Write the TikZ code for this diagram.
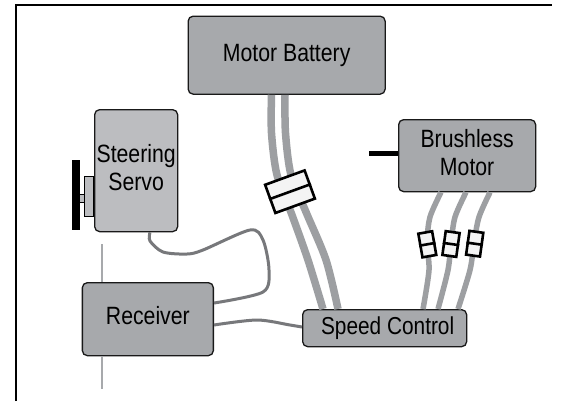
\documentclass[tikz,border=0pt]{standalone}
\usepackage{fontspec}
\setmainfont[FakeStretch=0.85]{Liberation Sans}
\newcommand{\liftup}[1]{\\[#1]\mbox{}}
\tikzset{
  x=1bp,y=-1bp,
  box/.style={draw=black!90,line width=1.3bp,rounded corners=5bp,fill=boxgray,text=black,anchor=north west,align=center,inner sep=0pt,font=\fontsize{25bp}{28.5bp}\selectfont},
  wire/.style={draw=wiregray,line width=5.5bp},
  bigwire/.style={draw=wiregray,line width=7.5bp},
  signal/.style={draw=sigdark,line width=3bp},
  fusebox/.style={draw=black,line width=2.6bp,fill=fusefill,minimum width=#1,inner sep=0pt},
  fusebar/.style={draw=black,line width=2.6bp},
  frameline/.style={draw=black,line width=1.4bp},
  axle/.style={draw=axlegray,line width=1.8bp}
}
\definecolor{boxgray}{HTML}{A7A9AC}
\definecolor{lightbox}{HTML}{BCBDC0}
\definecolor{wiregray}{HTML}{9D9FA2}
\definecolor{sigdark}{HTML}{77787B}
\definecolor{axlegray}{HTML}{A7A9AC}
\definecolor{fusefill}{HTML}{F4F4F4}
\begin{document}
\begin{tikzpicture}
\useasboundingbox (0,0) rectangle (570,401);
\fill[white] (0,0) rectangle (570,401);
\coordinate (fa) at (16,401);
\coordinate (fb) at (16,5);
\coordinate (fc) at (552,5);
\draw[frameline] (fa) -- (fb) -- (fc);

\node[box,minimum width=197bp,minimum height=78bp] (battery) at (187.5,15.5) {Motor Battery\liftup{-24.5bp}};
\node[box,fill=lightbox,minimum width=83bp,minimum height=122bp] (servo) at (94,109) {Steering\\Servo\liftup{-22bp}};
\node[box,minimum width=131bp,minimum height=73bp] (receiver) at (81.7,282) {Receiver\liftup{-22bp}};
\node[box,minimum width=164bp,minimum height=37bp,font=\fontsize{24.5bp}{26bp}\selectfont] (speed) at (302,309) {\hspace*{6bp}Speed Control};
\node[box,minimum width=137bp,minimum height=72bp] (motor) at (398,119) {Brushless\\Motor\liftup{-22bp}};

% servo arm
\node[draw=black,line width=1.2bp,fill=lightbox,minimum width=9bp,minimum height=40bp,inner sep=0pt] (horn) at (89.2,196.5) {};
\node[draw=black,line width=1bp,fill=lightbox,minimum width=5bp,minimum height=8bp,inner sep=0pt] (hub) at (82,198) {};
\node[fill=black,minimum width=7.5bp,minimum height=70.5bp,inner sep=0pt] (arm) at (76.2,195) {};

% motor shaft
\coordinate (shaftend) at (369,153.5);
\draw[black,line width=5.5bp] (shaftend) -- (shaftend -| motor.west);

% steering axle
\coordinate (axtop) at (102,244);
\coordinate (axbot) at (102,389);
\draw[axle] (axtop) -- (axtop |- receiver.north);
\draw[axle] (axbot |- receiver.south) -- (axbot);

% battery cables
\draw[bigwire] plot[smooth] coordinates {([xshift=84bp]battery.south west) (271.5,133) (277,175) (292,215) (308,260) ([xshift=21bp]speed.north west)};
\draw[bigwire] plot[smooth] coordinates {([xshift=97.5bp]battery.south west) (285.5,133) (291,175) (306,212) (326,260) ([xshift=36bp]speed.north west)};

% motor cables
\draw[wire] plot[smooth] coordinates {([xshift=43bp]motor.south west) (430,217) (427,243) (429,270) ([xshift=121bp]speed.north west)};
\draw[wire] plot[smooth] coordinates {([xshift=68bp]motor.south west) (455,217) (451,243) (448,270) ([xshift=136bp]speed.north west)};
\draw[wire] plot[smooth] coordinates {([xshift=92bp]motor.south west) (479,217) (474,243) (470,270) ([xshift=156bp]speed.north west)};

% signal cables
\draw[signal] plot[smooth] coordinates {([xshift=56bp]servo.south west) (150,241) (163,252) (187,254) (203,250) (250,230) (263,240) (269,270) (263,292) ([yshift=-21bp]receiver.north east)};
\draw[signal] plot[smooth] coordinates {([yshift=-43bp]receiver.north east) (257,320) (290,325) ([yshift=-18bp]speed.north west)};

% fuses
\node[fusebox=42bp,minimum height=30bp,rotate=20] (bfuse) at (290,191.7) {};
\draw[fusebar] (bfuse.west) -- (bfuse.east);
\node[fusebox=14bp,minimum height=24bp,rotate=10] (f1) at (427.3,244.3) {};
\draw[fusebar] (f1.west) -- (f1.east);
\node[fusebox=14bp,minimum height=24bp,rotate=-8] (f2) at (451,244) {};
\draw[fusebar] (f2.west) -- (f2.east);
\node[fusebox=14bp,minimum height=24bp,rotate=-8] (f3) at (474.7,243.7) {};
\draw[fusebar] (f3.west) -- (f3.east);
\end{tikzpicture}
\end{document}
